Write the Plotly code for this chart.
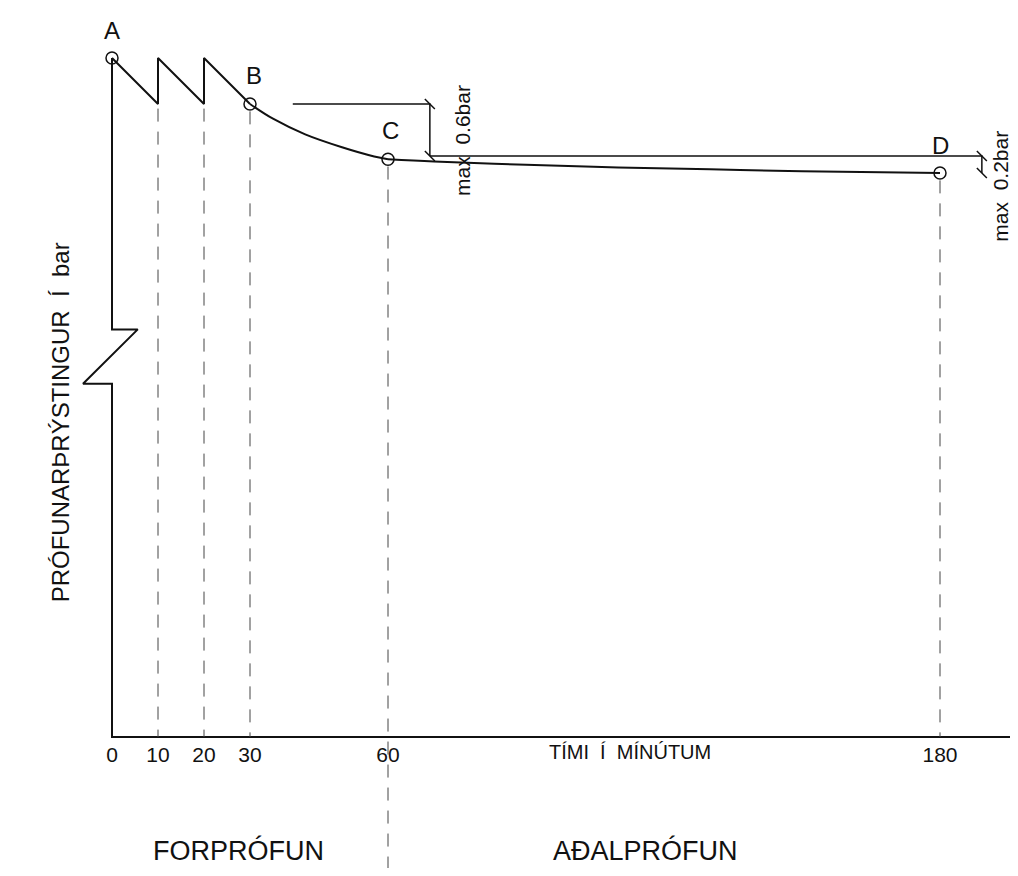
import plotly.graph_objects as go

# ---------------- data (minutes, bar) ----------------
saw_t = [0, 10, 10, 20, 20, 30]
saw_p = [10.0, 9.5, 10.0, 9.5, 10.0, 9.5]

bc_t = [30, 35, 42, 50, 57, 60]
bc_p = [9.50, 9.34, 9.17, 9.03, 8.93, 8.90]

cd_t = [60, 70, 90, 110, 130, 150, 180]
cd_p = [8.90, 8.875, 8.84, 8.81, 8.79, 8.77, 8.75]

point_names = ["A", "B", "C", "D"]
point_t = [0, 30, 60, 180]
point_p = [10.0, 9.5, 8.9, 8.75]

tick_vals = [0, 10, 20, 30, 60, 180]
tick_text = ["0", "10", "20", "30", "60", "180"]

# axis geometry (with break symbol on the pressure axis)
axis_base = 2.62
break_hi, break_lo = 7.05, 6.46
yaxis_t = [0, 0, 5.6, -6.3, 0, 0, 199]
yaxis_p = [10.0, break_hi, break_hi, break_lo, break_lo, axis_base, axis_base]

# dimension lines
dim06_x = 69.1
dim02_x = 189.1
ref_level = 8.935

BLACK = "#111111"
FONT = "Liberation Sans"

fig = go.Figure()

# axes
fig.add_trace(go.Scatter(x=yaxis_t, y=yaxis_p, mode="lines",
                         line=dict(color=BLACK, width=2), hoverinfo="skip"))

# dashed drop lines
drops = [(10, 9.45, axis_base), (20, 9.45, axis_base), (30, 9.42, axis_base),
         (60, 8.82, 0.9), (180, 8.67, axis_base)]
for t, top, bot in drops:
    fig.add_trace(go.Scatter(x=[t, t], y=[top, bot], mode="lines",
                             line=dict(color="#444444", width=1, dash="13px,10px"),
                             hoverinfo="skip"))

# pressure curve
fig.add_trace(go.Scatter(x=saw_t, y=saw_p, mode="lines",
                         line=dict(color=BLACK, width=2), hoverinfo="skip"))
fig.add_trace(go.Scatter(x=bc_t, y=bc_p, mode="lines", line_shape="spline",
                         line=dict(color=BLACK, width=2), hoverinfo="skip"))
fig.add_trace(go.Scatter(x=cd_t, y=cd_p, mode="lines", line_shape="spline",
                         line=dict(color=BLACK, width=2), hoverinfo="skip"))

# dimension lines
fig.add_trace(go.Scatter(x=[39.3, dim06_x, dim06_x], y=[9.5, 9.5, ref_level], mode="lines",
                         line=dict(color=BLACK, width=1.5), hoverinfo="skip"))
fig.add_trace(go.Scatter(x=[dim06_x, dim02_x, dim02_x], y=[ref_level, ref_level, point_p[3]],
                         mode="lines", line=dict(color=BLACK, width=1.5), hoverinfo="skip"))

# points
fig.add_trace(go.Scatter(x=point_t, y=point_p, mode="markers",
                         marker=dict(symbol="circle-open", size=12,
                                     line=dict(color=BLACK, width=1.5), color=BLACK),
                         hoverinfo="skip"))

# tick labels
fig.add_trace(go.Scatter(x=tick_vals, y=[2.40] * len(tick_vals), mode="text",
                         text=tick_text, textfont=dict(family=FONT, size=21, color=BLACK),
                         hoverinfo="skip"))

shapes = []
for (tx, ty) in [(dim06_x, 9.5), (dim06_x, ref_level), (dim02_x, ref_level), (dim02_x, point_p[3])]:
    shapes.append(dict(type="line", xref="x", yref="y", xsizemode="pixel", ysizemode="pixel",
                       xanchor=tx, yanchor=ty, x0=-5, x1=5, y0=5, y1=-5,
                       line=dict(color=BLACK, width=1.5)))

annotations = []
label_offsets = {"A": (0, 10.30), "B": (30.9, 9.815), "C": (60.6, 9.217), "D": (180, 9.054)}
for n in point_names:
    lx, ly = label_offsets[n]
    annotations.append(dict(x=lx, y=ly, xref="x", yref="y", text=n, showarrow=False,
                            font=dict(family=FONT, size=24, color=BLACK)))

annotations += [
    dict(x=112.6, y=2.457, xref="x", yref="y", text="TÍMI  Í  MÍNÚTUM", showarrow=False,
         font=dict(family=FONT, size=20, color=BLACK)),
    dict(x=27.6, y=1.391, xref="x", yref="y", text="FORPRÓFUN", showarrow=False,
         font=dict(family=FONT, size=27, color=BLACK)),
    dict(x=115.9, y=1.391, xref="x", yref="y", text="AÐALPRÓFUN", showarrow=False,
         font=dict(family=FONT, size=27, color=BLACK)),
    dict(x=-11.3, y=6.04, xref="x", yref="y", text="PRÓFUNARÞRÝSTINGUR  Í  bar",
         showarrow=False, textangle=-90, font=dict(family=FONT, size=24, color=BLACK)),
    dict(x=76.3, y=9.109, xref="x", yref="y", text="max  0.6bar", showarrow=False,
         textangle=-90, font=dict(family=FONT, size=21, color=BLACK)),
    dict(x=193.2, y=8.609, xref="x", yref="y", text="max  0.2bar", showarrow=False,
         textangle=-90, font=dict(family=FONT, size=21, color=BLACK)),
]

fig.update_layout(
    width=1010, height=860, autosize=False,
    margin=dict(l=0, r=0, t=0, b=0),
    paper_bgcolor="#ffffff", plot_bgcolor="#ffffff",
    showlegend=False,
    xaxis=dict(range=[-22.6087, 196.957], visible=False, fixedrange=True),
    yaxis=dict(range=[1.1957, 10.5435], visible=False, fixedrange=True),
    shapes=shapes, annotations=annotations,
)

fig.write_html("out.html")
